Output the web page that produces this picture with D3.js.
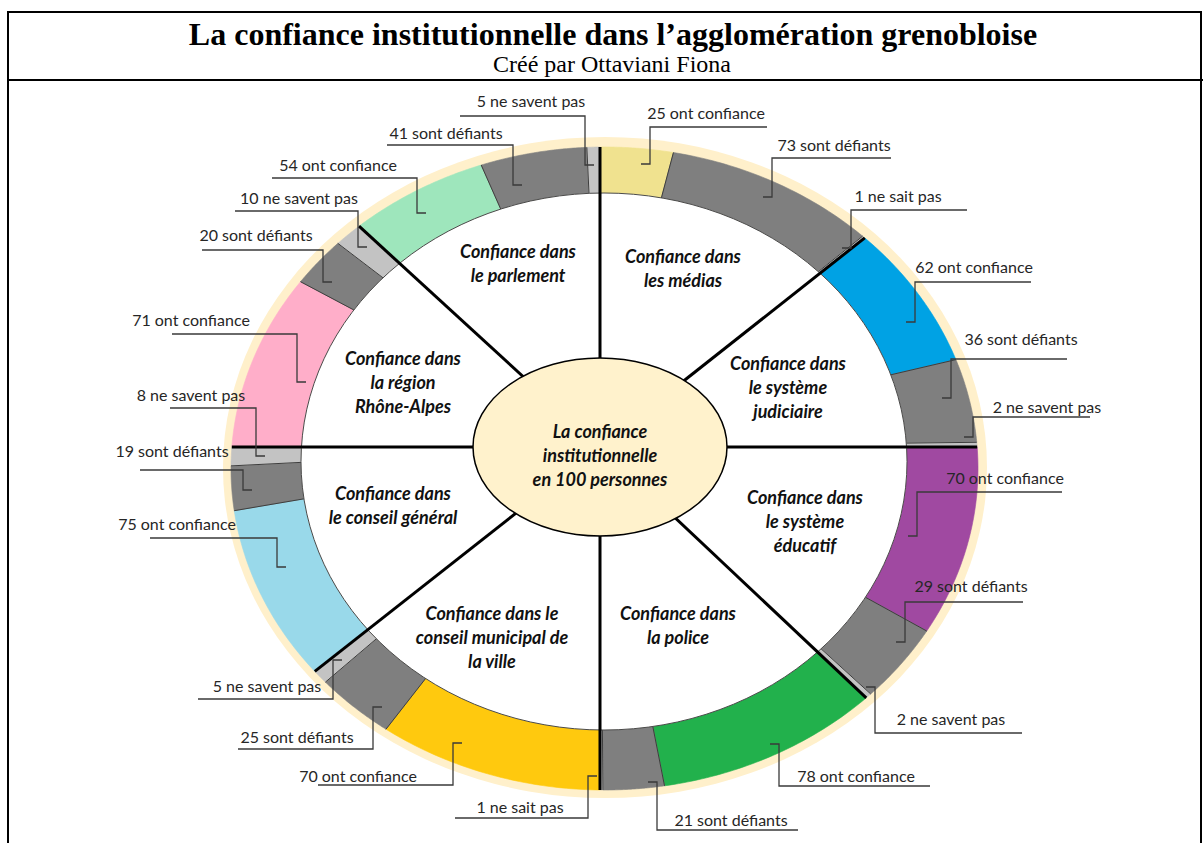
<!DOCTYPE html>
<html><head><meta charset="utf-8">
<script src="https://cdn.jsdelivr.net/npm/d3@7"></script>
<style>html,body{margin:0;padding:0;background:#fff}</style>
</head><body>
<svg id="c" width="1203" height="843"></svg>
<script>
// ---------------- data ----------------
const sectorLines = [
  ["Confiance dans", "les médias"],
  ["Confiance dans", "le système", "judiciaire"],
  ["Confiance dans", "le système", "éducatif"],
  ["Confiance dans", "la police"],
  ["Confiance dans le", "conseil municipal de", "la ville"],
  ["Confiance dans", "le conseil général"],
  ["Confiance dans", "la région", "Rhône-Alpes"],
  ["Confiance dans", "le parlement"]
];
const confiance   = [25, 62, 70, 78, 70, 75, 71, 54];
const defiants    = [73, 36, 29, 21, 25, 19, 20, 41];
const neSaventPas = [1, 2, 2, 1, 5, 8, 10, 5];
const centerLines = ["La confiance", "institutionnelle", "en 100 personnes"];
const title = "La confiance institutionnelle dans l’agglomération grenobloise";
const subtitle = "Créé par Ottaviani Fiona";

// ---------------- styles / layout ----------------
const confColors = ["#F0E28F", "#00A2E4", "#A049A1", "#22B14C", "#FFC90E", "#99D9EA", "#FFAEC9", "#9EE6BC"];
const defColor = "#7F7F7F", nspColor = "#C3C3C3";
const P0 = {x: 600, y: 447};
const halo  = {cx: 605,   cy: 467.5, rx: 382,   ry: 330.5};
const outer = {cx: 604.5, cy: 468.5, rx: 373.5, ry: 321.5};
const inner = {cx: 604,   cy: 461.5, rx: 303,   ry: 268.5};
const core  = {cx: 600,   cy: 447,   rx: 127,   ry: 89};
const boundaryDeg = [-90, -38.3, 0, 43.3, 90, 141.8, 180, 222.5, 270];
const titlePos = [[683,257],[788,364],[805,498],[678,614],[492,614],[393,494],[403,359],[518,252]];
// per sector: [conf, def, nsp] ->
// [text center x, baseline y, underline y, underline far x, leader x, leader tick y]
const labelPos = [
  [[706,119,127,767,650,164],[834,151,158,891,772,197],[898,202,210,967,851,248]],
  [[974,273,282,1031,915,322],[1021,345,359,1067,951,398],[1047,413,417,1090,973,437]],
  [[1005,484,492,1062,917,536],[971,592,602,1023,905,642],[951,725,733,1022,875,687]],
  [[856,782,786,930,779,744],[731,826,830,798,657,782],[520,813,818,455,588,776]],
  [[358,782,785,318,453,743],[297,743,749,238,373,707],[267,692,699,198,333,660]],
  [[177,530,538,150,277,567],[172,457,470,140,243,490],[191,401,408,170,256,456]],
  [[191,326,334,172,297,382],[256,241,250,202,323,282],[299,204,211,235,358,247]],
  [[338,171,178,272,417,213],[446,139,145,387,513,185],[531,107,116,460,585,165]]
];

const svg = d3.select("#c");
const labelFont = "Lato, 'Open Sans', sans-serif";

// frame
svg.append("rect").attr("x", 8).attr("y", 12).attr("width", 1193).attr("height", 900)
  .attr("fill", "none").attr("stroke", "#000").attr("stroke-width", 2);
svg.append("line").attr("x1", 8).attr("x2", 1203).attr("y1", 80).attr("y2", 80)
  .attr("stroke", "#000").attr("stroke-width", 2);
svg.append("text").attr("x", 613).attr("y", 45).attr("text-anchor", "middle")
  .attr("font-family", "'Liberation Serif', 'Times New Roman', serif").attr("font-weight", "bold")
  .attr("font-size", 32).text(title);
svg.append("text").attr("x", 612).attr("y", 72).attr("text-anchor", "middle")
  .attr("font-family", "'Liberation Serif', 'Times New Roman', serif")
  .attr("font-size", 24).text(subtitle);

// geometry helpers
function rayHit(e, deg) {
  const a = deg * Math.PI / 180, dx = Math.cos(a), dy = Math.sin(a);
  const ox = (P0.x - e.cx) / e.rx, oy = (P0.y - e.cy) / e.ry;
  const ux = dx / e.rx, uy = dy / e.ry;
  const A = ux*ux + uy*uy, B = 2*(ox*ux + oy*uy), C = ox*ox + oy*oy - 1;
  const s = (-B + Math.sqrt(B*B - 4*A*C)) / (2*A);
  const x = P0.x + s*dx, y = P0.y + s*dy;
  return {x, y, t: Math.atan2((y - e.cy)/e.ry, (x - e.cx)/e.rx)};
}
function unwrapParams(e) {
  const ts = boundaryDeg.map(d => rayHit(e, d).t);
  for (let i = 1; i < ts.length; i++) while (ts[i] < ts[i-1]) ts[i] += 2*Math.PI;
  return ts;
}
const pt = (e, t) => [e.cx + e.rx*Math.cos(t), e.cy + e.ry*Math.sin(t)];
const tOut = unwrapParams(outer), tIn = unwrapParams(inner);

// halo
svg.append("ellipse").attr("cx", halo.cx).attr("cy", halo.cy).attr("rx", halo.rx).attr("ry", halo.ry)
  .attr("fill", "#FFF0CB");

const line = d3.line();
const segments = [];
sectorLines.forEach((_, i) => {
  const vals = [confiance[i], defiants[i], neSaventPas[i]];
  const total = d3.sum(vals);
  const so = d3.scaleLinear().domain([0, total]).range([tOut[i], tOut[i+1]]);
  const si = d3.scaleLinear().domain([0, total]).range([tIn[i], tIn[i+1]]);
  let cum = 0;
  vals.forEach((v, k) => {
    segments.push({sector: i, kind: k, value: v, o0: so(cum), o1: so(cum+v), i0: si(cum), i1: si(cum+v),
      color: k === 0 ? confColors[i] : (k === 1 ? defColor : nspColor)});
    cum += v;
  });
});

const gSeg = svg.append("g");
segments.forEach(s => {
  const n = 48, pts = [];
  for (let j = 0; j <= n; j++) pts.push(pt(outer, s.o0 + (s.o1 - s.o0)*j/n));
  for (let j = n; j >= 0; j--) pts.push(pt(inner, s.i0 + (s.i1 - s.i0)*j/n));
  gSeg.append("path").attr("d", line(pts) + "Z").attr("fill", s.color)
    .attr("stroke", s.color).attr("stroke-width", 0.6);
});
// thin edges between segments
segments.forEach(s => {
  if (s.kind === 0) return;
  const a = pt(outer, s.o0), b = pt(inner, s.i0);
  gSeg.append("line").attr("x1", a[0]).attr("y1", a[1]).attr("x2", b[0]).attr("y2", b[1])
    .attr("stroke", "#3d3d3d").attr("stroke-width", 1);
});
// inner white ellipse
svg.append("ellipse").attr("cx", inner.cx).attr("cy", inner.cy).attr("rx", inner.rx).attr("ry", inner.ry)
  .attr("fill", "#fff").attr("stroke", "#4a4a4a").attr("stroke-width", 1);

// dividers
boundaryDeg.slice(0, 8).forEach(d => {
  const h = rayHit(outer, d);
  svg.append("line").attr("x1", P0.x).attr("y1", P0.y).attr("x2", h.x).attr("y2", h.y)
    .attr("stroke", "#000").attr("stroke-width", 3);
});

// core ellipse
svg.append("ellipse").attr("cx", core.cx).attr("cy", core.cy).attr("rx", core.rx).attr("ry", core.ry)
  .attr("fill", "#FFF2CC").attr("stroke", "#000").attr("stroke-width", 1.5);
centerLines.forEach((t, j) => {
  svg.append("text").attr("x", core.cx).attr("y", 438 + j*24).attr("text-anchor", "middle")
    .attr("font-family", labelFont).attr("font-weight", "bold").attr("font-style", "italic")
    .attr("font-size", 18).attr("fill", "#111").text(t);
});

// sector titles
sectorLines.forEach((lines, i) => {
  lines.forEach((t, j) => {
    svg.append("text").attr("x", titlePos[i][0]).attr("y", titlePos[i][1] + 6 + j*24)
      .attr("text-anchor", "middle").attr("font-family", labelFont).attr("font-weight", "bold")
      .attr("font-style", "italic").attr("font-size", 18).attr("fill", "#111").text(t);
  });
});

// labels with leader lines
const gLab = svg.append("g");
segments.forEach(s => {
  const [tx, ty, uy, ux, vx, vy] = labelPos[s.sector][s.kind];
  const left = ux < vx;
  const ax = vx + (left ? 9 : -9);
  gLab.append("path").attr("d", `M${ax},${vy}H${vx}V${uy}H${ux}`)
    .attr("fill", "none").attr("stroke", "#3a3a3a").attr("stroke-width", 1.3);
  let txt;
  if (s.kind === 0) txt = `${s.value} ont confiance`;
  else if (s.kind === 1) txt = `${s.value} sont défiants`;
  else txt = s.value === 1 ? `${s.value} ne sait pas` : `${s.value} ne savent pas`;
  gLab.append("text").attr("x", tx).attr("y", ty).attr("text-anchor", "middle")
    .attr("font-family", labelFont).attr("font-size", 16).attr("fill", "#262626").text(txt);
});
</script>
</body></html>
